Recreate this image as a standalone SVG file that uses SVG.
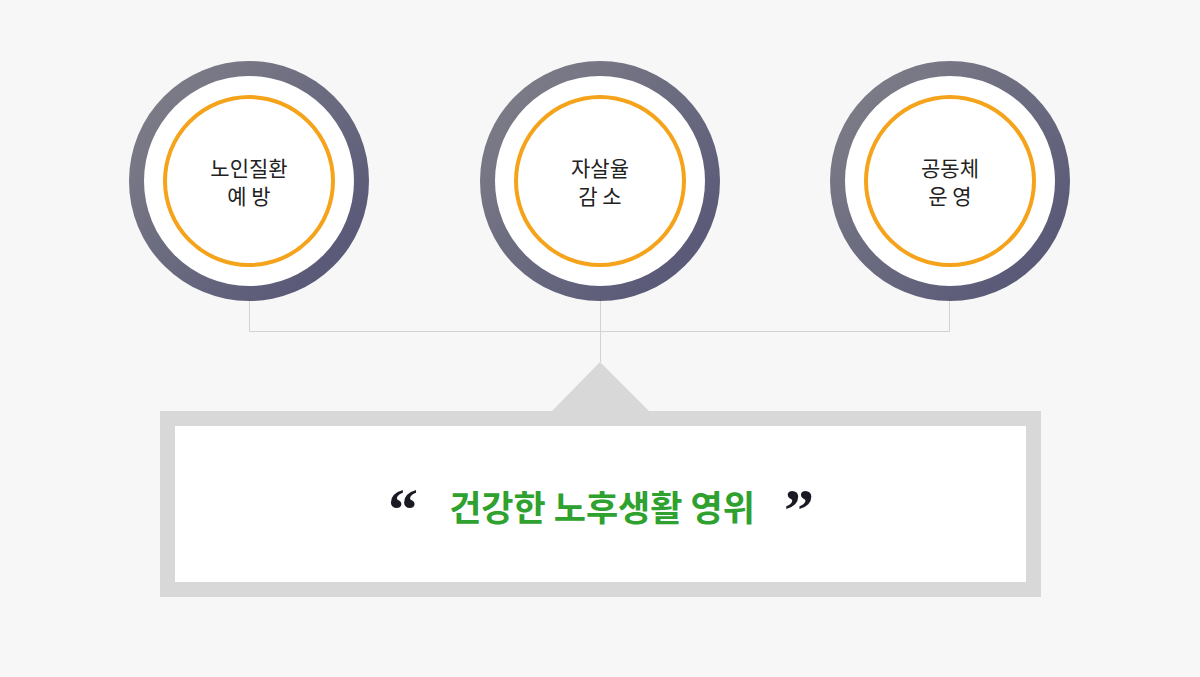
<svg xmlns="http://www.w3.org/2000/svg" width="1200" height="677" viewBox="0 0 1200 677">
<defs>
<linearGradient id="ring" x1="0" y1="0" x2="1" y2="1">
<stop offset="0" stop-color="#82828a"/>
<stop offset="1" stop-color="#525275"/>
</linearGradient>
<style>
.outer{fill:url(#ring)}
.inner{fill:#ffffff}
.orange{fill:#ffffff;stroke:#f5a31a;stroke-width:4}
.lbl{font-family:"Noto Sans CJK KR","Noto Sans",sans-serif;font-size:21px;fill:#222222;text-anchor:middle}
.conn{stroke:#d2d2d2;stroke-width:1;fill:none}
.main{font-family:"Noto Sans CJK KR","Noto Sans",sans-serif;font-size:35px;font-weight:bold;fill:#2ea12e;text-anchor:middle}
.q{font-family:"Liberation Serif",serif;font-size:60px;font-weight:bold;fill:#1a1a24;text-anchor:middle}
</style>
</defs>
<rect width="1200" height="677" fill="#f7f7f7"/>
<g id="connectors">
<path class="conn" d="M249.5 301 V331.5 H949.5 V301"/>
<path class="conn" d="M600.5 301 V362"/>
</g>
<g id="node1">
<circle class="outer" cx="249" cy="181" r="120"/>
<circle class="inner" cx="249" cy="181" r="105"/>
<circle class="orange" cx="249" cy="181" r="84"/>
<text class="lbl" x="249" y="176">노인질환</text>
<text class="lbl" x="249" y="204">예 방</text>
</g>
<g id="node2">
<circle class="outer" cx="600" cy="181" r="120"/>
<circle class="inner" cx="600" cy="181" r="105"/>
<circle class="orange" cx="600" cy="181" r="84"/>
<text class="lbl" x="600" y="176">자살율</text>
<text class="lbl" x="600" y="204">감 소</text>
</g>
<g id="node3">
<circle class="outer" cx="950" cy="181" r="120"/>
<circle class="inner" cx="950" cy="181" r="105"/>
<circle class="orange" cx="950" cy="181" r="84"/>
<text class="lbl" x="950" y="176">공동체</text>
<text class="lbl" x="950" y="204">운 영</text>
</g>
<g id="goal">
<polygon points="600,362 552,411 649,411" fill="#d8d8d8"/>
<rect x="160" y="411" width="881" height="186" fill="#d8d8d8"/>
<rect x="175" y="426" width="851" height="156" fill="#ffffff"/>
<text class="q" x="403" y="530">“</text>
<text class="main" x="602" y="521">건강한 노후생활 영위</text>
<text class="q" x="799" y="530">”</text>
</g>
</svg>
